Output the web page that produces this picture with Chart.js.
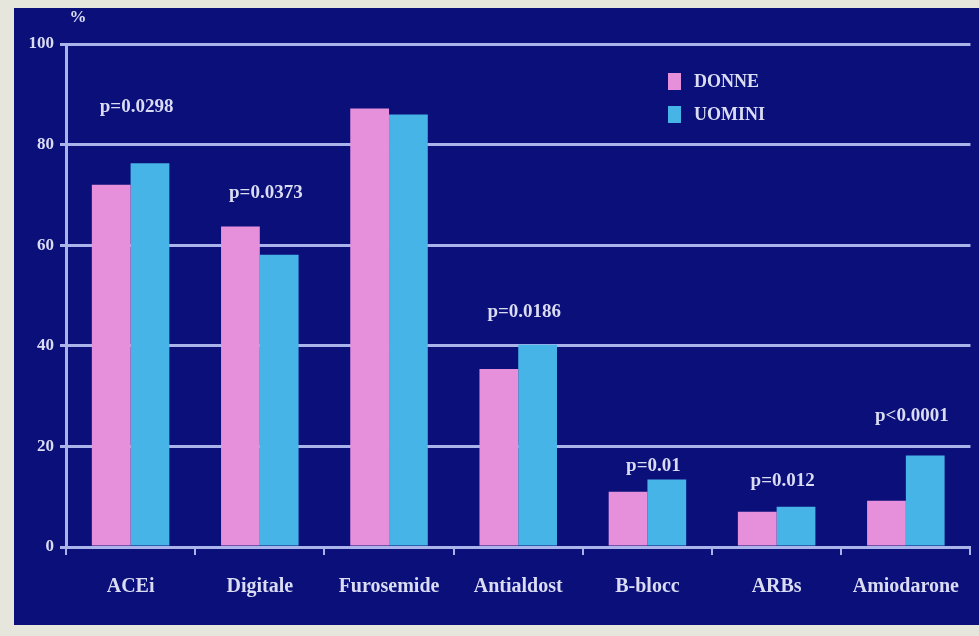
<!DOCTYPE html>
<html>
<head>
<meta charset="utf-8">
<script src="https://cdn.jsdelivr.net/npm/chart.js@4"></script>
<style>
    html, body { margin: 0; padding: 0; background: #e6e6dc; }
    #wrap {
        position: absolute; left: 14px; top: 8px;
        width: 965px; height: 617px;
        background: #0b0f7a;
    }
</style>
</head>
<body>
<div id="wrap"><canvas id="drugChart" width="965" height="617"></canvas></div>
<script>
// Drug categories and percentage of patients treated
const categories = ['ACEi', 'Digitale', 'Furosemide', 'Antialdost', 'B-blocc', 'ARBs', 'Amiodarone'];
const donne = [72, 63.7, 87.2, 35.4, 11, 7, 9.2];
const uomini = [76.3, 58.1, 86, 40.2, 13.4, 8, 18.2];

// p-values shown above each pair, and the height (in %) where each one sits
const pValues = ['p=0.0298', 'p=0.0373', null, 'p=0.0186', 'p=0.01', 'p=0.012', 'p<0.0001'];
const pLevels = [87.5, 70.4, null, 46.8, 16, 13.2, 26];

const yTicks = [0, 20, 40, 60, 80, 100];

const textColor = '#d9dcf2';
const lineColor = '#aab3ea';
const pink = '#e690dc';
const blue = '#46b4e6';
const serif = "'Liberation Serif', 'DejaVu Serif', serif";

// p-value labels, legend and the % unit mark
const annotations = {
    id: 'annotations',
    afterDatasetsDraw(chart) {
        const { ctx, scales } = chart;
        ctx.save();
        ctx.fillStyle = textColor;
        ctx.textAlign = 'center';
        ctx.textBaseline = 'middle';
        ctx.font = 'bold 19px ' + serif;
        pValues.forEach((txt, i) => {
            if (!txt) return;
            const x = scales.x.getPixelForValue(i) + 6;
            const y = scales.y.getPixelForValue(pLevels[i]);
            ctx.fillText(txt, x, y);
        });

        // unit
        ctx.font = 'bold 17px ' + serif;
        ctx.fillText('%', 64, 10);

        // legend
        const items = [['DONNE', pink, 73], ['UOMINI', blue, 106]];
        ctx.textAlign = 'left';
        ctx.font = 'bold 18px ' + serif;
        items.forEach(([label, color, y]) => {
            ctx.fillStyle = color;
            ctx.fillRect(654, y - 8, 13, 17);
            ctx.fillStyle = textColor;
            ctx.fillText(label, 680, y + 1);
        });
        ctx.restore();
    }
};

new Chart(document.getElementById('drugChart'), {
    type: 'bar',
    data: {
        labels: categories,
        datasets: [
            { label: 'DONNE', data: donne, backgroundColor: pink, borderWidth: 0 },
            { label: 'UOMINI', data: uomini, backgroundColor: blue, borderWidth: 0 }
        ]
    },
    options: {
        responsive: false,
        animation: false,
        categoryPercentage: 0.6,
        barPercentage: 1.0,
        layout: { padding: { top: 36, left: 0, right: 0, bottom: 0 } },
        plugins: {
            legend: { display: false },
            tooltip: { enabled: false }
        },
        scales: {
            x: {
                offset: true,
                grid: {
                    display: true,
                    drawOnChartArea: false,
                    drawTicks: true,
                    tickLength: 8,
                    color: lineColor,
                    lineWidth: 2,
                    offset: true
                },
                border: { display: true, color: lineColor, width: 3 },
                ticks: {
                    color: textColor,
                    font: { family: serif, size: 20, weight: 'bold' },
                    padding: 20,
                    maxRotation: 0
                },
                afterFit(scale) { scale.height = 78; }
            },
            y: {
                min: 0,
                max: 100,
                afterBuildTicks(scale) {
                    scale.ticks = yTicks.map(v => ({ value: v }));
                },
                grid: {
                    color: lineColor,
                    lineWidth: 3,
                    drawTicks: true,
                    tickLength: 6
                },
                border: { display: true, color: lineColor, width: 3 },
                ticks: {
                    color: textColor,
                    font: { family: serif, size: 17, weight: 'bold' },
                    padding: 6
                },
                afterFit(scale) { scale.width = 52; }
            }
        }
    },
    plugins: [annotations]
});
</script>
</body>
</html>
